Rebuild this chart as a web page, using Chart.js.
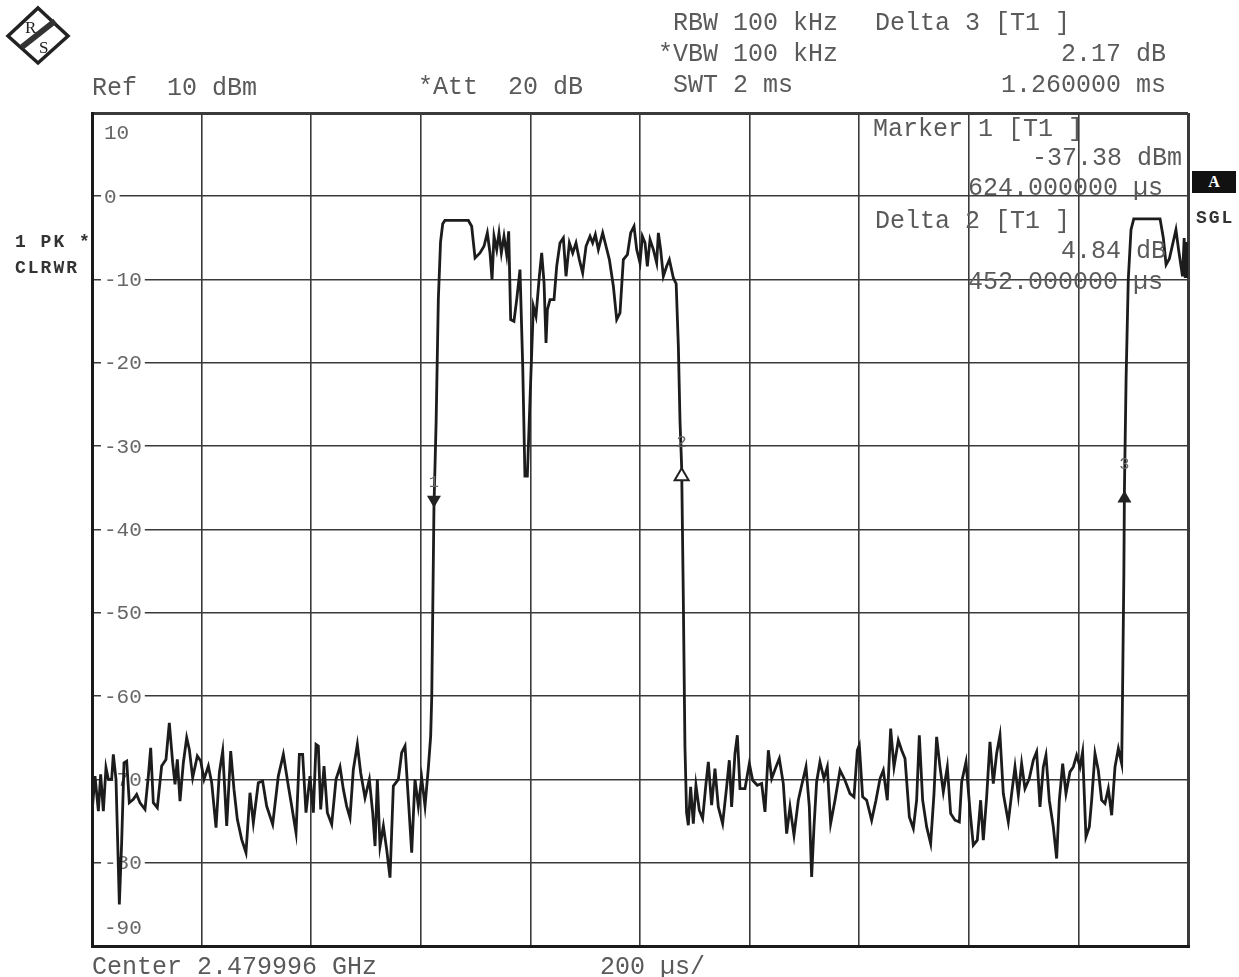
<!DOCTYPE html>
<html><head><meta charset="utf-8">
<script src="https://cdn.jsdelivr.net/npm/chart.js@4.4.1/dist/chart.umd.min.js"></script>
<style>
html,body{margin:0;padding:0;background:#fff;width:1239px;height:977px;overflow:hidden}
#wrap{position:relative;width:1239px;height:977px}
canvas{position:absolute;left:0;top:0}
.t{position:absolute;font-family:"Liberation Mono","DejaVu Sans Mono",monospace;font-size:25px;line-height:26px;color:#5a5a5a;white-space:pre}
.b{position:absolute;font-family:"Liberation Mono","DejaVu Sans Mono",monospace;font-weight:bold;font-size:18px;line-height:20px;color:#333;letter-spacing:2px;white-space:pre}
#abox{position:absolute;left:1192px;top:171px;width:44px;height:22px;background:#111;color:#fff;font:bold 16px "Liberation Serif",serif;text-align:center;line-height:22px}
</style></head><body>
<div id="wrap">
<canvas id="c" width="1239" height="977"></canvas>
<svg style="position:absolute;left:0;top:0" width="80" height="70" viewBox="0 0 80 70">
  <polygon points="38,8 68,36 38,63 8,36" fill="#fff" stroke="#222" stroke-width="3.5"/>
  <line x1="55" y1="21" x2="22" y2="47" stroke="#333" stroke-width="6"/>
  <text x="25" y="33" font-family="Liberation Serif" font-size="17" fill="#222">R</text>
  <text x="39" y="53" font-family="Liberation Serif" font-size="17" fill="#222">S</text>
</svg>
<div class="t" style="left:673px;top:11px">RBW 100 kHz</div>
<div class="t" style="left:875px;top:11px">Delta 3 [T1 ]</div>
<div class="t" style="left:658px;top:42px">*VBW 100 kHz</div>
<div class="t" style="left:1061px;top:42px">2.17 dB</div>
<div class="t" style="left:92px;top:76px">Ref  10 dBm</div>
<div class="t" style="left:418px;top:75px">*Att  20 dB</div>
<div class="t" style="left:673px;top:73px">SWT 2 ms</div>
<div class="t" style="left:1001px;top:73px">1.260000 ms</div>
<div class="t" style="left:873px;top:117px">Marker 1 [T1 ]</div>
<div class="t" style="left:1032px;top:146px">-37.38 dBm</div>
<div class="t" style="left:968px;top:176px">624.000000 µs</div>
<div class="t" style="left:875px;top:209px">Delta 2 [T1 ]</div>
<div class="t" style="left:1061px;top:239px">4.84 dB</div>
<div class="t" style="left:968px;top:270px">452.000000 µs</div>
<div class="t" style="left:92px;top:955px">Center 2.479996 GHz</div>
<div class="t" style="left:600px;top:955px">200 µs/</div>
<div class="b" style="left:15px;top:232px">1 PK *</div>
<div class="b" style="left:15px;top:258px">CLRWR</div>
<div id="abox">A</div>
<div class="b" style="left:1196px;top:208px">SGL</div>
</div>
<script>
// Trace sweep time positions (µs) and levels (dBm)
const timeUs = [
  0, 5.5, 11.6, 15.8, 20.7, 25.5, 29.8, 35.9, 38.9, 43.8,
  49.9, 54.1, 58.4, 63.3, 68.1, 75.4, 81.5, 87.6, 96.7, 102.8,
  107.1, 111.9, 119.2, 127.1, 135, 141.1, 147.2, 151.5, 155.7, 160.6,
  166.7, 172.8, 177.6, 183.7, 192.2, 198.3, 204.4, 212.3, 218.4, 226.3,
  232.4, 238.5, 245.8, 253.1, 259.1, 265.2, 273.1, 281, 288.3, 294.4,
  303.5, 311.4, 318.7, 329.7, 340, 349.2, 358.3, 364.4, 372.3, 378.4,
  384.4, 390.5, 397.8, 403.9, 408.8, 413, 417.3, 423.4, 429.5, 437.4,
  445.3, 452.6, 458.7, 464.7, 470.8, 476.9, 484.2, 490.3, 498.2, 506.1,
  512.2, 516.5, 520.7, 525.6, 531.7, 537.7, 543.8, 549.9, 559, 565.1,
  571.2, 577.3, 583.4, 589.4, 595.5, 601.6, 607.7, 613.8, 618,
  620, 624, 628, 632, 636, 640, 644, 686.8, 692.8, 699,
  708, 715.3, 721.4, 726.3, 730, 733.6, 738.5, 742.7, 747, 751.8,
  756.7, 760.4, 764, 770, 775, 781, 786, 790, 794.4, 799.3,
  805.4, 810.2, 816.3, 820.6, 824.9, 828.5, 831, 835.8, 843.1, 848,
  854, 860.1, 865, 871.1, 877.2, 883.2, 889.3, 895.4, 901.5, 908.8,
  913.6, 918.5, 924, 931.9, 938, 944.1, 951.4, 957.5, 963.5, 969.6,
  977, 983, 989.1, 994, 1000, 1004.3, 1009.2, 1013.4, 1018.3, 1024.4,
  1030.4, 1033.5, 1037.7, 1042.6, 1048.6, 1053.6, 1060.9,
  1066, 1070, 1073, 1076, 1079, 1082, 1085, 1088.2,
  1092.4, 1097.3, 1102.1, 1108.2, 1114.3, 1120.4, 1124.7, 1130.7, 1136.8, 1142.9,
  1150.8, 1158.1, 1163, 1167.2, 1173.3, 1177.6, 1182.5, 1191.6, 1199.5, 1205.6,
  1214.1, 1222, 1228.1, 1234.2, 1240.3, 1248.1, 1254.2, 1261.5, 1267.6, 1273.7,
  1281, 1288.9, 1295, 1302.9, 1309, 1313.2, 1317.5, 1322.3, 1328.4, 1335.7,
  1341.8, 1347.9, 1355.8, 1365, 1374, 1383.2, 1390.5, 1396.6, 1400.2, 1406.3,
  1413.6, 1422.7, 1430.6, 1438, 1444, 1451.3, 1457.4, 1463.5, 1471.4, 1477.5,
  1483.6, 1491.5, 1498.8, 1504.8, 1509.7, 1515.8, 1523.1, 1530.4, 1536.5, 1541.3,
  1547.4, 1553.5, 1560.8, 1566.9, 1574.8, 1582.7,
  1587, 1594.9, 1602.1, 1608.2, 1615.5, 1621.6, 1626.5, 1632.6, 1638.6, 1644.7,
  1650.8, 1656.9, 1663, 1672.1, 1678.2, 1684.3, 1690.4, 1696.4, 1702.5, 1710.4,
  1717.7, 1723.8, 1729.9, 1736, 1740.8, 1746.9, 1754.2, 1760.3, 1765.2, 1771.3,
  1777.3, 1784.6, 1790.7, 1796.8, 1802.9, 1807.7, 1813.8, 1819.9, 1824.2, 1830.3,
  1836.3, 1842.4, 1848.5, 1854.6, 1860.7, 1866.8, 1872.9, 1879,
  1880.5, 1883, 1884, 1887, 1891, 1896, 1901, 1949, 1955, 1960,
  1966, 1978, 1983, 1990, 1993, 1995, 1997, 1999, 2000
];
const levelDbm = [
  -74.0, -69.6, -73.8, -69.4, -73.8, -68.6, -70, -70, -67, -70,
  -85, -77.6, -68, -67.8, -72.8, -72.4, -71.8, -72.8, -73.6, -69.6,
  -66.2, -72.8, -73.4, -68.4, -67.6, -63.2, -68, -70.6, -67.6, -72.6,
  -68, -65, -66.4, -69.8, -67.2, -67.8, -70, -68.4, -70.4, -75.8,
  -69.2, -66.6, -75.6, -66.6, -71.2, -74.8, -77.2, -78.8, -71.6, -75.2,
  -70.4, -70.2, -73.2, -75.4, -69.6, -67, -70.8, -73.2, -76.4, -67,
  -67, -74, -69.6, -74, -65.8, -66, -73.6, -68.4, -74, -75.4,
  -70, -68.5, -71.2, -73.2, -74.6, -68.8, -65.8, -69.2, -72.2, -70,
  -74, -78, -70, -78, -75.6, -78.4, -81.8, -70.8, -70, -66.8,
  -66, -72.4, -78.8, -70, -73.2, -69.8, -73.2, -68.6, -64.8,
  -60, -37.4, -27, -12.4, -5.5, -3.3, -2.9, -2.9, -3.6, -7.4,
  -6.8, -6.0, -4.4, -6.8, -10, -4.8, -6.4, -4.4, -6.8, -4.8,
  -7, -4.2, -14.8, -15, -12.4, -8.8, -20.4, -33.6, -33.6, -24.4,
  -13.2, -14.4, -9.6, -6.8, -10.4, -17.6, -13.6, -12.4, -12.4, -8.4,
  -5.6, -5.0, -9.6, -5.6, -6.8, -5.6, -7.6, -9.2, -6.0, -4.8,
  -5.6, -4.6, -6.4, -4.4, -6.0, -7.6, -10.8, -14.8, -14.0, -7.6,
  -7.0, -4.4, -3.6, -6.4, -8.0, -4.8, -5.6, -8.4, -5.2, -6.4,
  -8.0, -4.4, -6.4, -9.6, -8.4, -7.6, -9.8,
  -10.5, -18, -27, -32.5, -48, -66, -74, -75.5,
  -70.9, -75.3, -70.7, -73.7, -74.7, -70.5, -67.9, -73.1, -68.7, -73.3,
  -75.3, -70.9, -67.7, -73.3, -66.9, -64.7, -71.1, -71.1, -68.1, -70.1,
  -70.7, -70.5, -73.9, -66.5, -69.9, -68.5, -67.5, -70.5, -76.5, -73.3,
  -76.7, -72.5, -70.7, -68.5, -73.3, -81.7, -75.7, -70.3, -67.9, -69.9,
  -68.5, -75.3, -72.5, -68.9, -70.1, -71.7, -72.1, -66.5, -65.9, -72.1,
  -72.5, -74.9, -72.5, -69.9, -68.9, -72.5, -63.9, -68.5, -65.3, -66.5,
  -67.5, -74.5, -75.9, -72.5, -64.7, -72.5, -75.7, -77.7, -71.7, -64.9,
  -68.5, -71.5, -68.5, -74.1, -74.9, -75.1,
  -70.3, -67.9, -73.7, -77.9, -77.3, -72.5, -77.3, -72.1, -65.5, -70.5,
  -66.9, -64.7, -71.7, -75.1, -71.7, -68.5, -71.9, -68.1, -71.1, -69.9,
  -67.7, -66.7, -73.3, -68.5, -67.1, -72.5, -75.7, -79.5, -72.5, -68.1,
  -71.7, -69.1, -68.5, -67.1, -68.5, -66.7, -76.9, -75.7, -72.5, -66.9,
  -68.9, -72.5, -72.9, -71.1, -74.3, -68.5, -66.3, -68.1,
  -60, -45, -35.2, -22, -10, -4, -2.7, -2.7, -5, -8.2,
  -7.5, -4.0, -6.5, -9.6, -5, -9.8, -5.5, -9.8, -8
];

// Axis ranges / ticks
const xMinUs = 0, xMaxUs = 2000, xStepUs = 200;
const yMinDbm = -90, yMaxDbm = 10, yStepDb = 10;
const yTickValues = [10, 0, -10, -20, -30, -40, -50, -60, -70, -80, -90];
const yTickLabels = ['10', '0', '-10', '-20', '-30', '-40', '-50', '-60', '-70', '-80', '-90'];

// Markers: time (µs), level (dBm), label
const markerTimesUs = [624, 1076, 1884];
const markerLevelsDbm = [-37.38, -32.54, -35.21];
const markerNames = ['1', '2', '3'];

const yLabelPlugin = {
  id: 'yLabels',
  beforeDatasetsDraw(chart) {
    const { ctx, chartArea: a, scales: { y } } = chart;
    ctx.save();
    ctx.font = '21px "Liberation Mono", monospace';
    ctx.textBaseline = 'middle';
    const n = yTickValues.length;
    yTickValues.forEach((v, i) => {
      let py = y.getPixelForValue(v);
      const txt = yTickLabels[i];
      const w = ctx.measureText(txt).width;
      const lx = a.left + 12;
      if (i === 0) py += 19;
      else if (i === n - 1) py -= 19;
      else {
        ctx.fillStyle = '#fff';
        ctx.fillRect(lx - 3, py - 4, w + 6, 8);
      }
      ctx.fillStyle = '#666';
      ctx.fillText(txt, lx, py + 1);
    });
    ctx.restore();
  }
};

const markerPlugin = {
  id: 'markers',
  afterDatasetsDraw(chart) {
    const { ctx, scales: { x, y } } = chart;
    ctx.save();
    markerTimesUs.forEach((t, i) => {
      const px = x.getPixelForValue(t);
      const py = y.getPixelForValue(markerLevelsDbm[i]);
      ctx.beginPath();
      if (i === 0) {
        ctx.moveTo(px - 7, py - 12); ctx.lineTo(px + 7, py - 12); ctx.lineTo(px, py);
      } else {
        ctx.moveTo(px, py + 1); ctx.lineTo(px + 7, py + 13); ctx.lineTo(px - 7, py + 13);
      }
      ctx.closePath();
      if (i === 1) {
        ctx.fillStyle = '#fff'; ctx.fill();
        ctx.strokeStyle = '#222'; ctx.lineWidth = 2; ctx.stroke();
      } else {
        ctx.fillStyle = '#222'; ctx.fill();
      }
      ctx.font = '17px "Liberation Mono", monospace';
      ctx.fillStyle = '#666';
      ctx.textAlign = 'center';
      ctx.textBaseline = 'middle';
      ctx.fillText(markerNames[i], px, py - 25);
    });
    ctx.restore();
  }
};

const gridWidth = (c) => (c.tick && (c.tick.value === c.scale.min || c.tick.value === c.scale.max)) ? 3 : 1.6;

new Chart(document.getElementById('c'), {
  type: 'line',
  data: {
    datasets: [{
      data: timeUs.map((t, i) => ({ x: t, y: levelDbm[i] })),
      borderColor: '#1c1c1c',
      borderWidth: 2.8,
      pointRadius: 0,
      tension: 0,
      fill: false
    }]
  },
  options: {
    responsive: false,
    animation: false,
    devicePixelRatio: 1,
    layout: { padding: { left: 92, top: 113, right: 51, bottom: 31 } },
    plugins: { legend: { display: false }, tooltip: { enabled: false } },
    scales: {
      x: {
        type: 'linear', min: xMinUs, max: xMaxUs,
        ticks: { display: false, stepSize: xStepUs },
        grid: { color: '#3a3a3a', lineWidth: gridWidth, drawTicks: false },
        border: { display: true, color: '#1a1a1a', width: 3 }
      },
      y: {
        type: 'linear', min: yMinDbm, max: yMaxDbm,
        ticks: { display: false, stepSize: yStepDb },
        grid: { color: '#3a3a3a', lineWidth: gridWidth, drawTicks: false },
        border: { display: true, color: '#1a1a1a', width: 3 }
      }
    }
  },
  plugins: [yLabelPlugin, markerPlugin]
});
</script>
</body></html>
